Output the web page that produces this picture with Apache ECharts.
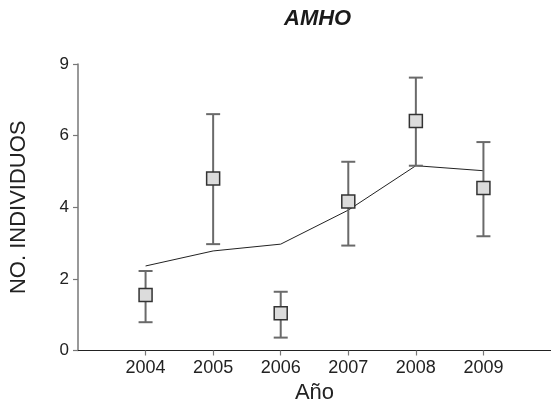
<!DOCTYPE html>
<html>
<head>
<meta charset="utf-8">
<script src="https://cdn.jsdelivr.net/npm/echarts@6/dist/echarts.min.js"></script>
<style>
  html, body { margin: 0; padding: 0; background: #fff; }
  #chart { width: 551px; height: 412px; }
</style>
</head>
<body>
<div id="chart"></div>
<script>
// Survey years and yearly counts (values in axis units)
const years = [2004, 2005, 2006, 2007, 2008, 2009];
const means = [1.55, 4.80, 1.04, 4.16, 6.41, 4.54];
const lower = [0.79, 2.97, 0.36, 2.93, 5.16, 3.19];
const upper = [2.22, 6.60, 1.64, 5.27, 7.62, 5.82];
const trend = [2.36, 2.78, 2.97, 3.92, 5.16, 5.02];
// Tick labels shown on the count axis (one per tick, bottom to top)
const yTickLabels = ['0', '2', '4', '6', '9'];

const font = 'Liberation Sans, Arial, Helvetica, sans-serif';

const chart = echarts.init(document.getElementById('chart'));

const errData = years.map((y, i) => [y, lower[i], upper[i]]);
const meanData = years.map((y, i) => [y, means[i]]);
const trendData = years.map((y, i) => [y, trend[i]]);

chart.setOption({
  animation: false,
  backgroundColor: '#ffffff',
  title: {
    text: 'AMHO',
    left: 279,
    top: 3,
    textStyle: {
      fontFamily: font,
      fontSize: 22,
      fontWeight: 'bold',
      fontStyle: 'italic',
      color: '#1a1a1a'
    }
  },
  grid: { left: 77, right: 0, top: 64, bottom: 61.5, containLabel: false },
  xAxis: {
    type: 'value',
    min: 2003,
    max: 2010,
    interval: 1,
    name: 'Año',
    nameLocation: 'middle',
    nameGap: 30,
    nameTextStyle: { fontFamily: font, fontSize: 22, color: '#222' },
    axisLine: { lineStyle: { color: '#222', width: 1.2 } },
    axisTick: { show: true, length: 5, lineStyle: { color: '#777', width: 1.2 } },
    axisLabel: {
      margin: 9,
      fontFamily: font,
      fontSize: 18,
      color: '#222',
      showMinLabel: false,
      showMaxLabel: false,
      formatter: v => (years.indexOf(v) >= 0 ? String(v) : '')
    },
    splitLine: { show: false }
  },
  yAxis: {
    type: 'value',
    min: 0,
    max: 8,
    interval: 2,
    name: 'NO. INDIVIDUOS',
    nameLocation: 'middle',
    nameGap: 48,
    nameTextStyle: { fontFamily: font, fontSize: 22, color: '#222' },
    axisLine: { show: true, lineStyle: { color: '#777', width: 1.5 } },
    axisTick: { show: true, length: 5, lineStyle: { color: '#777', width: 1.2 } },
    axisLabel: {
      margin: 9,
      fontFamily: font,
      fontSize: 17,
      color: '#222',
      formatter: v => yTickLabels[Math.round(v / 2)]
    },
    splitLine: { show: false }
  },
  series: [
    {
      type: 'line',
      data: trendData,
      showSymbol: false,
      symbol: 'none',
      lineStyle: { color: '#222', width: 1 },
      z: 1
    },
    {
      type: 'custom',
      data: errData,
      z: 2,
      renderItem: function (params, api) {
        const x = api.value(0);
        const lo = api.coord([x, api.value(1)]);
        const hi = api.coord([x, api.value(2)]);
        const cap = 7;
        const style = { stroke: '#6a6a6a', lineWidth: 2 };
        return {
          type: 'group',
          children: [
            { type: 'line', shape: { x1: lo[0], y1: lo[1], x2: hi[0], y2: hi[1] }, style: style },
            { type: 'line', shape: { x1: hi[0] - cap, y1: hi[1], x2: hi[0] + cap, y2: hi[1] }, style: style },
            { type: 'line', shape: { x1: lo[0] - cap, y1: lo[1], x2: lo[0] + cap, y2: lo[1] }, style: style }
          ]
        };
      }
    },
    {
      type: 'scatter',
      data: meanData,
      symbol: 'rect',
      symbolSize: 13,
      itemStyle: { color: '#dcdcdc', borderColor: '#333', borderWidth: 1.5, opacity: 1 },
      z: 3
    }
  ]
});
</script>
</body>
</html>
